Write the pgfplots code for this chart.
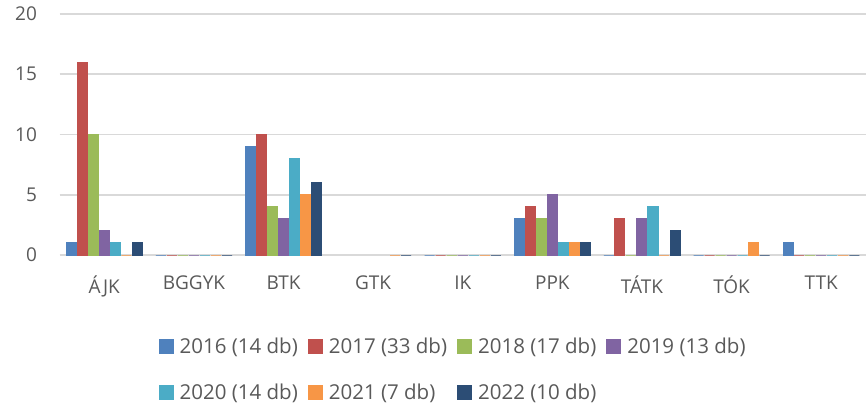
\documentclass[border=0pt]{standalone}
\usepackage{pgfplots}
\pgfplotsset{compat=1.18}
\usepackage{fontspec}
\setmainfont{Open Sans}
\definecolor{c16}{HTML}{4F81BD}
\definecolor{c17}{HTML}{C0504D}
\definecolor{c18}{HTML}{9BBB59}
\definecolor{c19}{HTML}{8064A2}
\definecolor{c20}{HTML}{4BACC6}
\definecolor{c21}{HTML}{F79646}
\definecolor{c22}{HTML}{2C4D75}
\definecolor{txt}{HTML}{595959}
\definecolor{grd}{HTML}{D9D9D9}
\begin{document}
\begin{tikzpicture}
\useasboundingbox (0pt,0pt) rectangle (866pt,-403pt);
\begin{axis}[
  at={(59.5pt,-255pt)}, anchor=south west,
  scale only axis, width=806.5pt, height=241pt,
  xmin=-0.5, xmax=8.5, ymin=0, ymax=20,
  ytick={0,5,10,15,20},
  xtick={0,1,2,3,4,5,6,7,8},
  xticklabels={ÁJK,BGGYK,BTK,GTK,IK,PPK,TÁTK,TÓK,TTK},
  /pgf/number format/assume math mode=true,
  axis line style={draw=none},
  major tick length=0pt,
  ymajorgrids, major grid style={draw=grd, line width=1.6pt},
  tick label style={font=\fontsize{19}{23}\selectfont, text=txt},
  yticklabel style={xshift=-19pt},
  xticklabel style={yshift=-17pt},
  ybar, bar width=0.112,
  clip=false,
  legend columns=4,
  legend cell align=left,
  legend style={draw=none, fill=none, at={(0.488,-0.325)}, anchor=north,
    font=\fontsize{20.5}{24}\selectfont, text=txt,
    /tikz/every odd column/.append style={column sep=4pt},
    /tikz/every even column/.append style={column sep=8pt},
    row sep=25pt},
  legend image code/.code={\fill[#1] (0pt,-7pt) rectangle (14pt,7pt);},
]
\addplot[fill=c16, draw=c16, line width=1pt, bar shift=-0.369] coordinates {(0,1) (1,0) (2,9) (4,0) (5,3) (6,0) (7,0) (8,1)};
\addplot[fill=c17, draw=c17, line width=1pt, bar shift=-0.246] coordinates {(0,16) (1,0) (2,10) (4,0) (5,4) (6,3) (7,0) (8,0)};
\addplot[fill=c18, draw=c18, line width=1pt, bar shift=-0.123] coordinates {(0,10) (1,0) (2,4) (4,0) (5,3) (6,0) (7,0) (8,0)};
\addplot[fill=c19, draw=c19, line width=1pt, bar shift=0] coordinates {(0,2) (1,0) (2,3) (4,0) (5,5) (6,3) (7,0) (8,0)};
\addplot[fill=c20, draw=c20, line width=1pt, bar shift=0.123] coordinates {(0,1) (1,0) (2,8) (4,0) (5,1) (6,4) (7,0) (8,0)};
\addplot[fill=c21, draw=c21, line width=1pt, bar shift=0.246] coordinates {(0,0) (1,0) (2,5) (3,0) (4,0) (5,1) (6,0) (7,1) (8,0)};
\addplot[fill=c22, draw=c22, line width=1pt, bar shift=0.369] coordinates {(0,1) (1,0) (2,6) (3,0) (4,0) (5,1) (6,2) (7,0) (8,0)};
\legend{2016 (14 db),2017 (33 db),2018 (17 db),2019 (13 db),2020 (14 db),2021 (7 db),2022 (10 db)}
\end{axis}
\end{tikzpicture}
\end{document}
